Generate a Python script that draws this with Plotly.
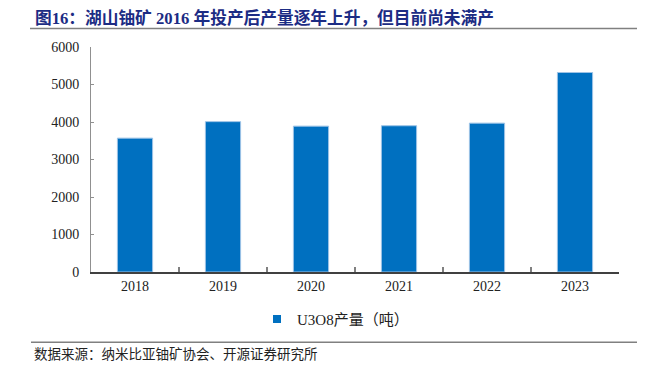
import plotly.graph_objects as go

years = ["2018", "2019", "2020", "2021", "2022", "2023"]
u3o8_tonnes = [3570, 4010, 3890, 3900, 3970, 5320]
y_ticks = [0, 1000, 2000, 3000, 4000, 5000, 6000]
series_name = "U3O8产量（吨）"
title_text = "图16：湖山铀矿 2016 年投产后产量逐年上升，但目前尚未满产"
source_text = "数据来源：纳米比亚铀矿协会、开源证券研究所"

# page body has an 8px default margin; work in window pixels and offset
OFF = 8
W, H = 645 - OFF, 370 - OFF
L, R, T, B = 91 - OFF, 26, 46.5 - OFF, 97.5
pw, ph = W - L - R, H - T - B

def px_x(x):
    return (x - OFF - L) / pw

def px_y(y):
    return (H - B - (y - OFF)) / ph

FONT = "Times New Roman, Liberation Serif, Noto Sans CJK SC, serif"
CJK = "Noto Sans CJK SC, sans-serif"
BLUE = "#0070C0"

fig = go.Figure()
fig.add_trace(go.Bar(
    x=years, y=u3o8_tonnes, name=series_name, showlegend=False,
    marker=dict(color=BLUE, line=dict(color="#9DC3E6", width=1)),
))
fig.add_trace(go.Scatter(
    x=[None], y=[None], mode="markers", name=series_name,
    marker=dict(symbol="square", size=8, color=BLUE),
))

fig.update_layout(
    width=W, height=H,
    margin=dict(l=L, r=R, t=T, b=B, autoexpand=False),
    paper_bgcolor="white", plot_bgcolor="white",
    bargap=0.6,
    font=dict(family=FONT, size=14, color="#222"),
    showlegend=True,
    legend=dict(orientation="h", x=px_x(257), xanchor="left",
                y=px_y(320), yanchor="middle",
                font=dict(family=FONT, size=15, color="#222"),
                itemwidth=30, bgcolor="rgba(0,0,0,0)"),
    xaxis=dict(showline=True, linecolor="#404040", linewidth=1.5,
               ticks="inside", tickson="boundaries", ticklen=5,
               tickcolor="#808080", tickwidth=1.5,
               showgrid=False, tickfont=dict(size=14)),
    yaxis=dict(range=[0, 6000], tickvals=y_ticks, showline=True,
               linecolor="#909090", linewidth=1, ticks="inside",
               ticklen=3, tickcolor="#909090", showgrid=False,
               zeroline=False, ticklabelstandoff=8,
               tickfont=dict(size=14)),
)

fig.add_annotation(
    x=px_x(33), y=px_y(17), xref="paper", yref="paper",
    xanchor="left", yanchor="middle", showarrow=False,
    text="<b>" + title_text + "</b>",
    font=dict(family=FONT, size=16.7, color="#1C2C84"),
)
fig.add_annotation(
    x=px_x(32), y=px_y(354), xref="paper", yref="paper",
    xanchor="left", yanchor="middle", showarrow=False,
    text=source_text,
    font=dict(family=CJK, size=13.5, color="#222"),
)
for yy, x0 in [(28, 30), (343, 31)]:
    fig.add_shape(type="line", xref="paper", yref="paper",
                  x0=px_x(x0), x1=px_x(645), y0=px_y(yy), y1=px_y(yy),
                  line=dict(color="#808080", width=1.5))

fig.write_html("out.html")
